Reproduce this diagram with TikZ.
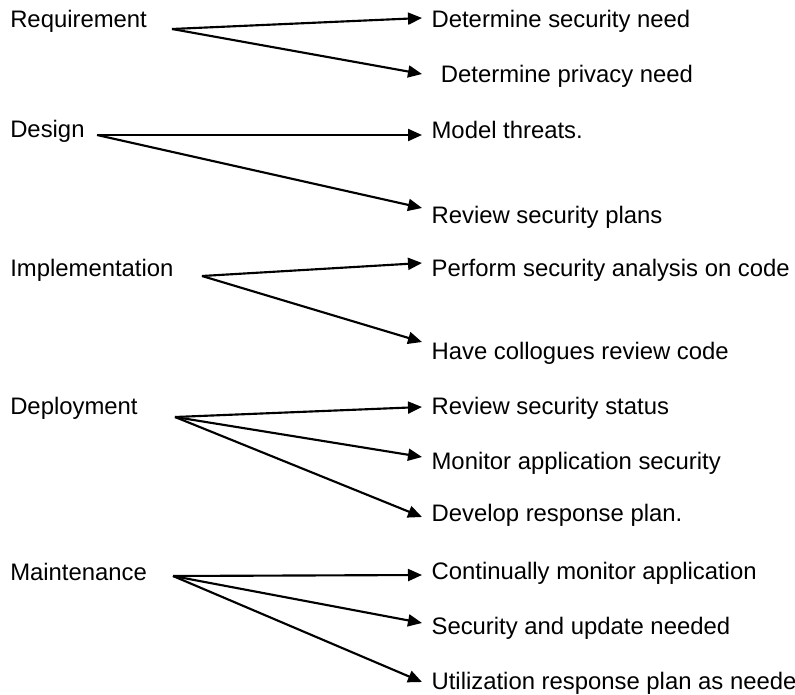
\documentclass[tikz,border=0pt]{standalone}
\usepackage{fontspec}
\setmainfont{Liberation Sans}
\usetikzlibrary{arrows.meta,calc}
\begin{document}
\begin{tikzpicture}[x=0.75pt,y=-0.75pt,
  phase/.style={anchor=base west,inner sep=0pt,font=\fontsize{17.9pt}{21pt}\selectfont},
  task/.style={anchor=west,inner xsep=7pt,inner ysep=0pt,text height=12.6pt,text depth=0pt,font=\fontsize{17.9pt}{21pt}\selectfont},
  link/.style={line width=1.6pt,-{Triangle[length=10.5pt,width=9pt]}}]
\clip (0,0) rectangle (795,695);
% Requirement
\node[phase] (req) at (10,28) {Requirement};
\coordinate (reqo) at (172,29);
\node[task] (r1) at (422,19) {Determine security need};
\node[task] (r2) at (422,74) {\hspace{7pt}Determine privacy need};
\draw[link] (reqo) -- ($(r1.west)+(0,-1)$);
\draw[link] (reqo) -- (r2.west);
% Design
\node[phase] (des) at (10,138) {Design};
\coordinate (deso) at (97,135);
\node[task] (d1) at (422,130) {Model threats.};
\node[task] (d2) at (422,215) {Review security plans};
\draw[link] (deso) -- ($(d1.west)+(0,5)$);
\draw[link] (deso) -- ($(d2.west)+(0,-7)$);
% Implementation
\node[phase] (imp) at (10,276) {Implementation};
\coordinate (impo) at (202,276);
\node[task] (i1) at (422,268) {Perform security analysis on code};
\node[task] (i2) at (422,351) {Have collogues review code};
\draw[link] (impo) -- ($(i1.west)+(0,-5)$);
\draw[link] (impo) -- ($(i2.west)+(0,-9)$);
% Deployment
\node[phase] (dep) at (10,414) {Deployment};
\coordinate (depo) at (175,417);
\node[task] (p1) at (422,406) {Review security status};
\node[task] (p2) at (422,461) {Monitor application security};
\node[task] (p3) at (422,513) {Develop response plan.};
\draw[link] (depo) -- ($(p1.west)+(0,1)$);
\draw[link] (depo) -- ($(p2.west)+(0,-4)$);
\draw[link] (depo) -- ($(p3.west)+(0,4)$);
% Maintenance
\node[phase] (mai) at (10,580) {Maintenance};
\coordinate (maio) at (173,576);
\node[task] (m1) at (422,571) {Continually monitor application};
\node[task] (m2) at (422,626) {Security and update needed};
\node[task] (m3) at (422,681) {Utilization response plan as needed};
\draw[link] (maio) -- ($(m1.west)+(0,4)$);
\draw[link] (maio) -- ($(m2.west)+(0,-3)$);
\draw[link] (maio) -- ($(m3.west)+(0,1)$);
\end{tikzpicture}
\end{document}
